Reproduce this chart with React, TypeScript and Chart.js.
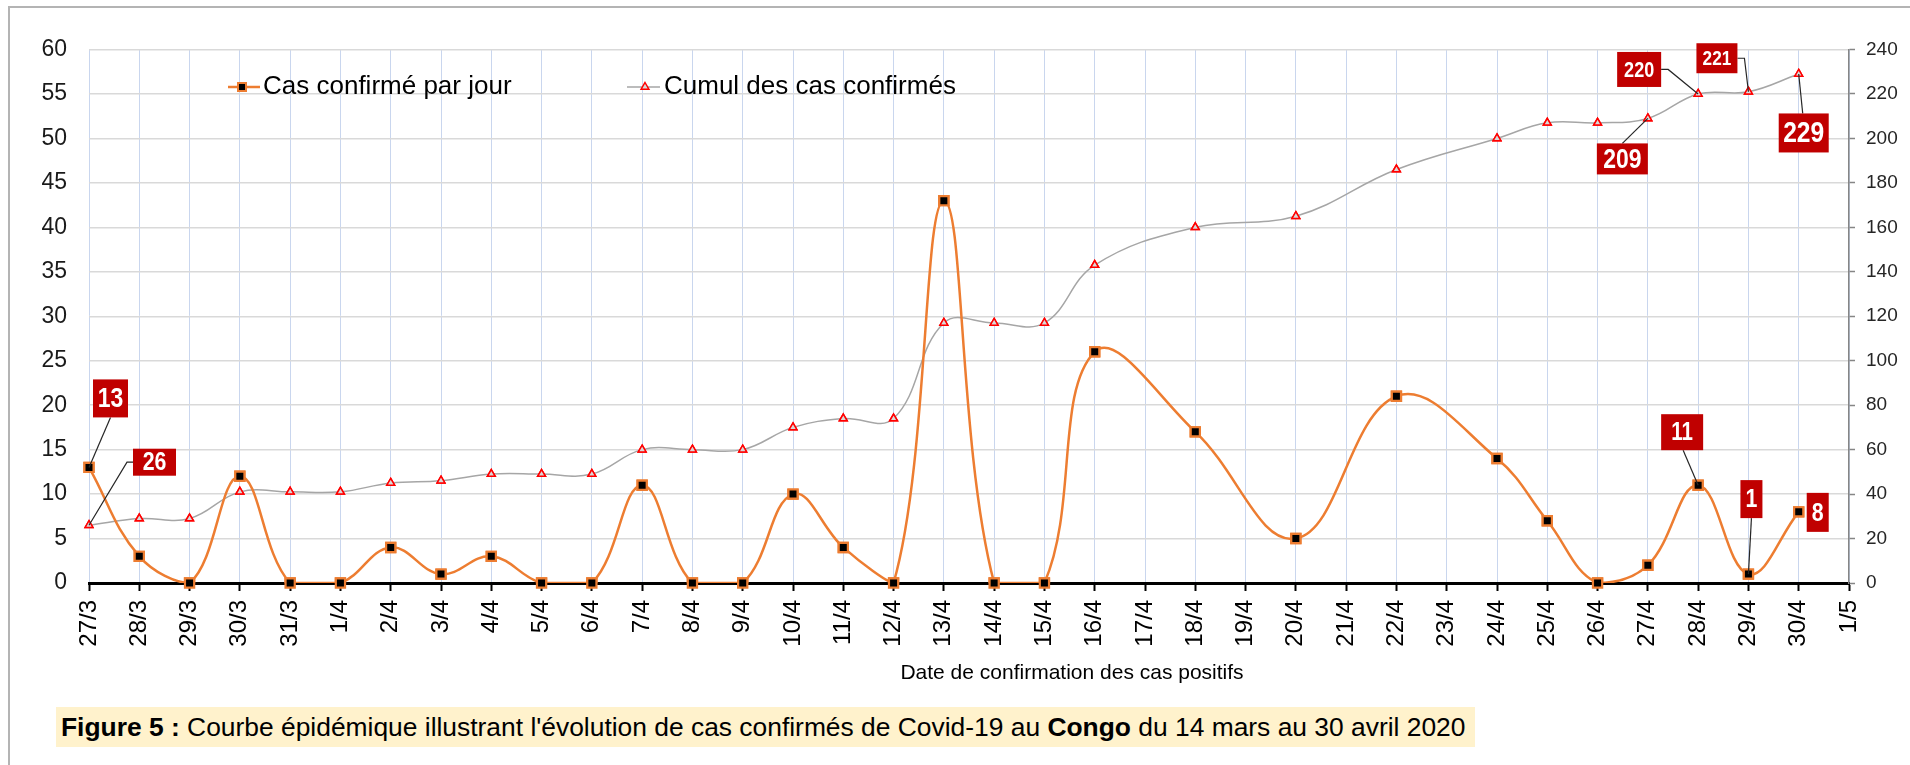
import React, { useEffect, useRef } from "react";
import { Chart, registerables } from "chart.js";

Chart.register(...registerables);

// ---------------- DATA ----------------
const dates = [
  "27/3", "28/3", "29/3", "30/3", "31/3",
  "1/4", "2/4", "3/4", "4/4", "5/4", "6/4", "7/4", "8/4", "9/4", "10/4",
  "11/4", "12/4", "13/4", "14/4", "15/4", "16/4", "17/4", "18/4", "19/4", "20/4",
  "21/4", "22/4", "23/4", "24/4", "25/4", "26/4", "27/4", "28/4", "29/4", "30/4",
  "1/5",
];
const dailyCases = [
  13, 3, 0, 12, 0,
  0, 4, 1, 3, 0, 0, 11, 0, 0, 10,
  4, 0, 43, 0, 0, 26, null, 17, null, 5,
  null, 21, null, 14, 7, 0, 2, 11, 1, 8,
  null,
];
const cumulativeCases = [
  26, 29, 29, 41, 41,
  41, 45, 46, 49, 49, 49, 60, 60, 60, 70,
  74, 74, 117, 117, 117, 143, null, 160, null, 165,
  null, 186, null, 200, 207, 207, 209, 220, 221, 229,
  null,
];
const leftTickValues = [0, 5, 10, 15, 20, 25, 30, 35, 40, 45, 50, 55, 60];
const rightTickValues = [0, 20, 40, 60, 80, 100, 120, 140, 160, 180, 200, 220, 240];
const seriesNames = ["Cas confirmé par jour", "Cumul des cas confirmés"];
const xAxisTitle = "Date de confirmation des cas positifs";

// which points carry a red value callout (dataset, index)
const calloutTargets = [
  [0, 0], [1, 0], [1, 32], [1, 33], [1, 31], [1, 34], [0, 32], [0, 33], [0, 34],
];

// ---------------- STYLE / LAYOUT ----------------
const W = 1910;
const H = 765;
const ORANGE = "#ED7D31";
const GREY_LINE = "#A6A6A6";
const CALLOUT_RED = "#C00000";
const NARROW = "'Liberation Sans Narrow', 'Arial Narrow', 'Liberation Sans', Arial, sans-serif";
const SANS = "'Liberation Sans', Arial, sans-serif";
const NARROW_SCALE = 0.82;

// callout box layout relative to the labelled point (px), parallel to calloutTargets
const calloutLayout = [
  { dx: 21.5, dy: -69, w: 35, h: 38, size: 28, leader: [[0, 19]] },
  { dx: 65.5, dy: -63, w: 43, h: 27, size: 26, leader: [[-21.5, 0], [-27.5, 0]] },
  { dx: -59, dy: -24.5, w: 44, h: 35, size: 22, leader: [[22, 0], [29, 0]] },
  { dx: -31.5, dy: -33.5, w: 41, h: 30, size: 21, leader: [[20.5, 0], [27.5, 0]] },
  { dx: -25.5, dy: 40.5, w: 51, h: 31, size: 28, leader: [[0, -15.5]] },
  { dx: 5, dy: 59, w: 50, h: 39, size: 30, leader: [[-1, -19.5]] },
  { dx: -16, dy: -53, w: 42, h: 36, size: 25, leader: [[1, 18]] },
  { dx: 3, dy: -75, w: 22, h: 38, size: 26, leader: [[0, 19]] },
  { dx: 19, dy: 0.5, w: 22, h: 39, size: 26, leader: [] },
];

const redrawPoints = {
  id: "redrawPoints",
  afterDatasetsDraw(chart: any) {
    const ctx = chart.ctx;
    const big = { left: -1e5, top: -1e5, right: 1e5, bottom: 1e5 };
    for (let d = chart.data.datasets.length - 1; d >= 0; d--) {
      const meta = chart.getDatasetMeta(d);
      meta.data.forEach((el: any) => {
        if (!el.skip) el.draw(ctx, big);
      });
    }
  },
};

const legendAndCallouts = {
  id: "legendAndCallouts",
  afterDraw(chart: any) {
    const ctx = chart.ctx as CanvasRenderingContext2D;
    const legendY = 87;
    ctx.save();
    // legend item 1
    ctx.strokeStyle = ORANGE;
    ctx.lineWidth = 2.5;
    ctx.beginPath();
    ctx.moveTo(228, legendY);
    ctx.lineTo(260, legendY);
    ctx.stroke();
    ctx.fillStyle = "#000";
    ctx.fillRect(238, legendY - 4, 8, 8);
    ctx.lineWidth = 2;
    ctx.strokeRect(238, legendY - 4, 8, 8);
    ctx.font = `26px ${SANS}`;
    ctx.fillStyle = "#000";
    ctx.textBaseline = "middle";
    ctx.textAlign = "left";
    ctx.fillText(seriesNames[0], 263, legendY);
    // legend item 2
    ctx.strokeStyle = GREY_LINE;
    ctx.lineWidth = 1.5;
    ctx.beginPath();
    ctx.moveTo(627, legendY);
    ctx.lineTo(660, legendY);
    ctx.stroke();
    const r = 4.5;
    ctx.beginPath();
    ctx.moveTo(645, legendY - r);
    ctx.lineTo(645 + r * 0.866, legendY + r / 2);
    ctx.lineTo(645 - r * 0.866, legendY + r / 2);
    ctx.closePath();
    ctx.fillStyle = "#D9D9D9";
    ctx.fill();
    ctx.strokeStyle = "#FF0000";
    ctx.lineWidth = 1.5;
    ctx.stroke();
    ctx.fillStyle = "#000";
    ctx.fillText(seriesNames[1], 664, legendY);

    // x-axis title (sits right of centre in the original)
    const area = chart.chartArea;
    ctx.font = `21px ${SANS}`;
    ctx.textAlign = "center";
    ctx.textBaseline = "middle";
    ctx.fillStyle = "#000";
    ctx.fillText(xAxisTitle, area.left + 983, area.bottom + 90);

    // callouts
    calloutTargets.forEach(([ds, idx], k) => {
      const lay = calloutLayout[k];
      const el = chart.getDatasetMeta(ds).data[idx];
      const value = chart.data.datasets[ds].data[idx];
      const cx = el.x + lay.dx;
      const cy = el.y + lay.dy;
      if (lay.leader.length) {
        ctx.strokeStyle = "#262626";
        ctx.lineWidth = 1.2;
        ctx.beginPath();
        ctx.moveTo(cx + lay.leader[0][0], cy + lay.leader[0][1]);
        for (let j = 1; j < lay.leader.length; j++) {
          ctx.lineTo(cx + lay.leader[j][0], cy + lay.leader[j][1]);
        }
        ctx.lineTo(el.x, el.y);
        ctx.stroke();
      }
      ctx.fillStyle = CALLOUT_RED;
      ctx.fillRect(cx - lay.w / 2, cy - lay.h / 2, lay.w, lay.h);
      ctx.save();
      ctx.translate(cx, cy + 1);
      ctx.scale(NARROW_SCALE, 1);
      ctx.fillStyle = "#FFFFFF";
      ctx.font = `bold ${lay.size}px ${SANS}`;
      ctx.textAlign = "center";
      ctx.textBaseline = "middle";
      ctx.fillText(String(value), 0, 0);
      ctx.restore();
    });
    ctx.restore();
  },
};

export default function App() {
  const canvasRef = useRef<HTMLCanvasElement | null>(null);

  useEffect(() => {
    document.body.style.margin = "0";
    const canvas = canvasRef.current;
    if (!canvas) return;
    const chart = new Chart(canvas, {
      type: "line",
      data: {
        labels: dates,
        datasets: [
          {
            label: seriesNames[0],
            data: dailyCases,
            yAxisID: "y",
            borderColor: ORANGE,
            borderWidth: 2.5,
            tension: 0.4,
            spanGaps: true,
            pointStyle: "rect",
            pointRadius: 6.5,
            pointBorderWidth: 2.2,
            pointBackgroundColor: "#000000",
            pointBorderColor: ORANGE,
            fill: false,
          },
          {
            label: seriesNames[1],
            data: cumulativeCases,
            yAxisID: "y1",
            borderColor: GREY_LINE,
            borderWidth: 1.5,
            tension: 0.4,
            spanGaps: true,
            pointStyle: "triangle",
            pointRadius: 4.5,
            pointBorderWidth: 1.5,
            pointBackgroundColor: "#D9D9D9",
            pointBorderColor: "#FF0000",
            fill: false,
          },
        ],
      },
      options: {
        responsive: false,
        animation: false,
        devicePixelRatio: 1,
        layout: { padding: { left: 0, right: 0, top: 49.5, bottom: 79.4 } },
        plugins: {
          legend: { display: false },
          tooltip: { enabled: false },
        },
        scales: {
          x: {
            type: "category",
            offset: false,
            grid: {
              color: "#C9D6EE",
              lineWidth: 1,
              drawTicks: true,
              tickLength: 8,
              tickColor: "#000000",
              tickWidth: 2,
            },
            border: { display: true, color: "#000000", width: 3 },
            ticks: {
              autoSkip: false,
              maxRotation: 90,
              minRotation: 90,
              padding: 9,
              color: "#000000",
              font: { family: SANS, size: 24 },
            },
            title: { display: false, text: xAxisTitle },
            afterFit(scale: any) {
              scale.height = 102.6;
            },
          },
          y: {
            position: "left",
            min: leftTickValues[0],
            max: leftTickValues[leftTickValues.length - 1],
            afterBuildTicks(scale: any) {
              scale.ticks = leftTickValues.map((v) => ({ value: v }));
            },
            grid: { color: "#D9D9D9", lineWidth: 1.5, drawTicks: false },
            border: { display: false },
            ticks: {
              padding: 22,
              color: "#1A1A1A",
              font: { family: NARROW, size: 23 },
            },
            afterFit(scale: any) {
              scale.width = 89;
            },
          },
          y1: {
            position: "right",
            min: rightTickValues[0],
            max: rightTickValues[rightTickValues.length - 1],
            afterBuildTicks(scale: any) {
              scale.ticks = rightTickValues.map((v) => ({ value: v }));
            },
            grid: {
              drawOnChartArea: false,
              drawTicks: true,
              tickLength: 6,
              tickColor: "#868686",
              tickWidth: 1.5,
            },
            border: { display: true, color: "#868686", width: 1.5 },
            ticks: {
              padding: 11,
              color: "#262626",
              font: { family: NARROW, size: 19 },
            },
            afterFit(scale: any) {
              scale.width = 61;
            },
          },
        },
      },
      plugins: [redrawPoints, legendAndCallouts],
    } as any);
    return () => chart.destroy();
  }, []);

  return (
    <div style={{ position: "relative", width: W, height: H, background: "#FFFFFF", overflow: "hidden" }}>
      <div
        style={{
          position: "absolute",
          left: 8,
          top: 6,
          width: W,
          height: H,
          borderTop: "2px solid #B4B4B4",
          borderLeft: "2px solid #B4B4B4",
        }}
      />
      <canvas ref={canvasRef} width={W} height={H} style={{ position: "absolute", left: 0, top: 0 }} />
      <div
        style={{
          position: "absolute",
          left: 56,
          top: 707,
          width: 1419,
          height: 40,
          background: "#FFF2CC",
          fontFamily: SANS,
          fontSize: 26.4,
          lineHeight: "40px",
          paddingLeft: 5,
          boxSizing: "border-box",
          whiteSpace: "nowrap",
          color: "#000",
        }}
      >
        <b>Figure 5 :</b> Courbe épidémique illustrant l'évolution de cas confirmés de Covid-19 au{" "}
        <b>Congo</b> du 14 mars au 30 avril 2020
      </div>
    </div>
  );
}
